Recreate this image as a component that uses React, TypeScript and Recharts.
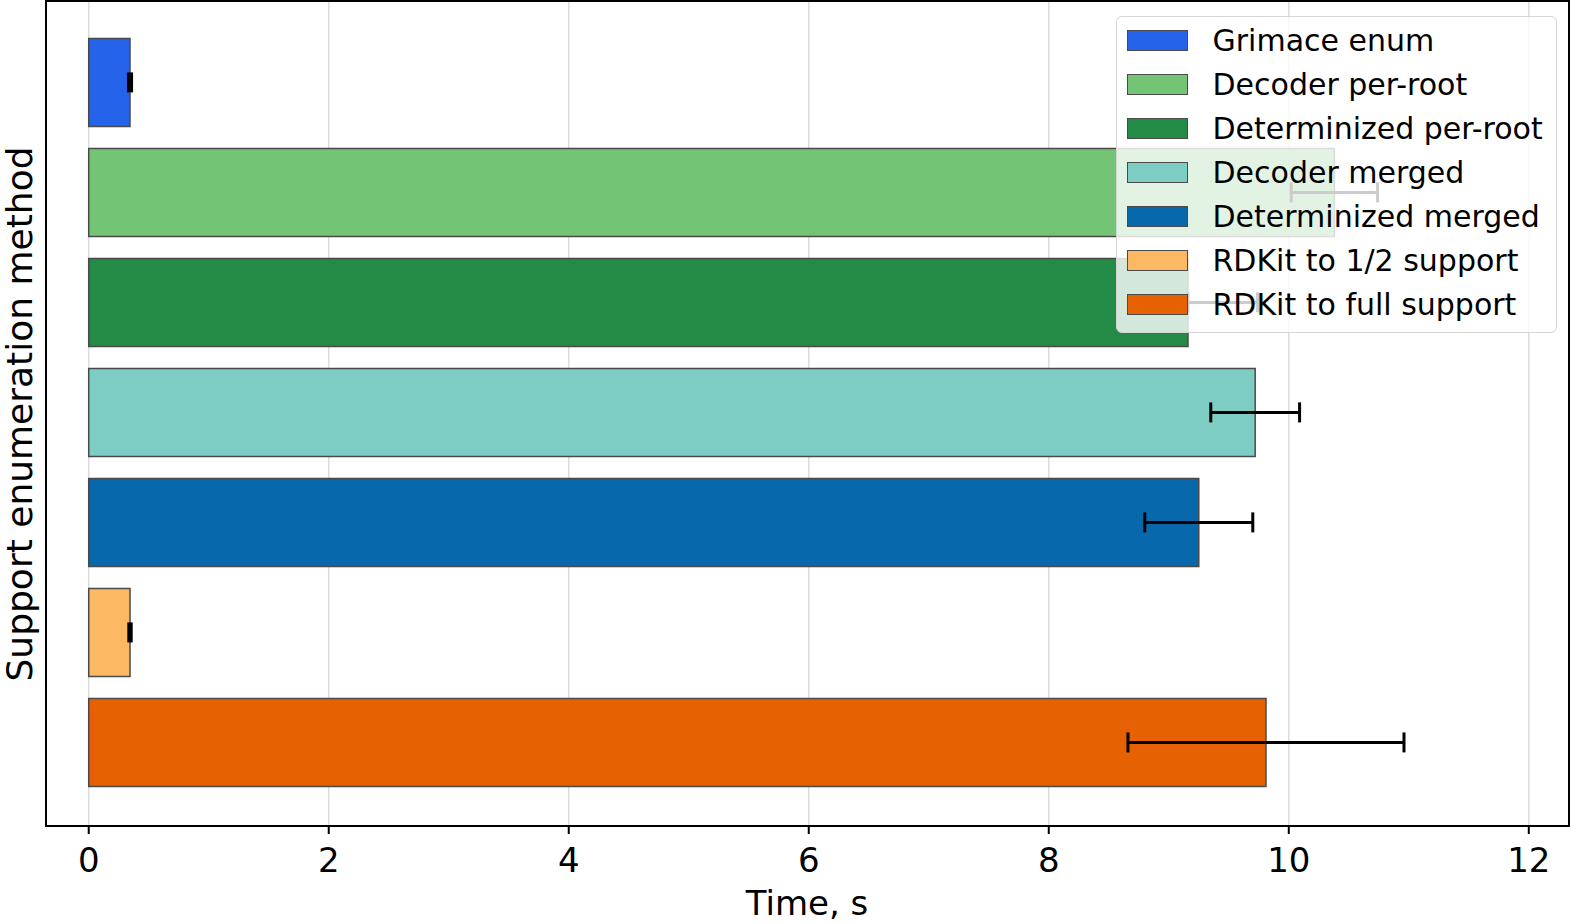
import { BarChart, Bar, Cell, XAxis, YAxis, CartesianGrid, ErrorBar, ReferenceArea } from 'recharts';

const methods = [
  'Grimace enum',
  'Decoder per-root',
  'Determinized per-root',
  'Decoder merged',
  'Determinized merged',
  'RDKit to 1/2 support',
  'RDKit to full support',
];
const meanTimes = [0.344, 10.38, 9.16, 9.72, 9.25, 0.344, 9.81];
const errMinus = [0.013, 0.36, 0, 0.37, 0.45, 0.01, 1.15];
const errPlus = [0.013, 0.36, 0.58, 0.37, 0.45, 0.01, 1.15];
const colors = ['#2563eb', '#74c476', '#238b45', '#7ecdc4', '#0868ac', '#fdb863', '#e66101'];
const xTicks = [0, 2, 4, 6, 8, 10, 12];

// bars sit at positions 0..6 on a numeric y axis, first one on top
const data = methods.map((name, i) => ({
  name,
  pos: i,
  time: meanTimes[i],
  err: [errMinus[i], errPlus[i]],
}));

const FONT = 'DejaVu Sans';
const XDOMAIN: [number, number] = [-0.356, 12.335];
const YDOMAIN: [number, number] = [-0.74, 6.76];

function XLabel() {
  return (
    <text x={807} y={915} textAnchor="middle" fontSize={34} fontFamily={FONT} fill="#000">
      Time, s
    </text>
  );
}

function YLabel() {
  return (
    <text transform="translate(32,414) rotate(-90)" textAnchor="middle" fontSize={36} fontFamily={FONT} fill="#000">
      Support enumeration method
    </text>
  );
}

function LegendBox() {
  return (
    <div
      style={{
        position: 'absolute',
        left: 1116,
        top: 16,
        width: 441,
        height: 317,
        boxSizing: 'border-box',
        border: '1.5px solid #d6d6d6',
        borderRadius: 6,
        background: 'rgba(255,255,255,0.8)',
        fontFamily: FONT,
      }}
    >
      {methods.map((m, i) => (
        <div
          key={m}
          style={{
            position: 'absolute',
            left: 9.5,
            top: 1 + 44 * i,
            height: 44,
            display: 'flex',
            alignItems: 'center',
            whiteSpace: 'nowrap',
          }}
        >
          <div
            style={{
              width: 61,
              height: 21,
              boxSizing: 'border-box',
              background: colors[i],
              border: '1.5px solid #4a4a4a',
            }}
          />
          <span style={{ marginLeft: 25, fontSize: 30, color: '#000' }}>{m}</span>
        </div>
      ))}
    </div>
  );
}

export default function App() {
  return (
    <div style={{ position: 'absolute', left: 0, top: 0, width: 1572, height: 924, background: '#fff' }}>
      <BarChart
        width={1572}
        height={924}
        data={data}
        layout="vertical"
        margin={{ top: 1, right: 3, left: 0, bottom: 0 }}
      >
        <CartesianGrid horizontal={false} stroke="#dcdcdc" strokeWidth={1.5} />
        <XAxis
          type="number"
          domain={XDOMAIN}
          allowDataOverflow
          ticks={xTicks}
          height={98}
          tickSize={8}
          tickMargin={14}
          stroke="#000"
          axisLine={{ stroke: '#000', strokeWidth: 2 }}
          tickLine={{ stroke: '#000', strokeWidth: 2 }}
          tick={{ fontSize: 34, fill: '#000', fontFamily: FONT }}
          label={<XLabel />}
        />
        <YAxis
          type="number"
          dataKey="pos"
          domain={YDOMAIN}
          allowDataOverflow
          width={46}
          tick={false}
          tickLine={false}
          axisLine={{ stroke: '#000', strokeWidth: 2 }}
          label={<YLabel />}
        />
        <Bar dataKey="time" barSize={88} stroke="#4a4a4a" strokeWidth={1.5} isAnimationActive={false}>
          {data.map((d, i) => (
            <Cell key={d.name} fill={colors[i]} />
          ))}
          <ErrorBar dataKey="err" direction="x" width={10} stroke="#000" strokeWidth={3} isAnimationActive={false} />
        </Bar>
        {/* axes frame around the plot area */}
        <ReferenceArea
          x1={XDOMAIN[0]}
          x2={XDOMAIN[1]}
          y1={YDOMAIN[0]}
          y2={YDOMAIN[1]}
          fill="none"
          fillOpacity={0}
          stroke="#000"
          strokeWidth={2}
          strokeOpacity={1}
        />
      </BarChart>
      <LegendBox />
    </div>
  );
}
